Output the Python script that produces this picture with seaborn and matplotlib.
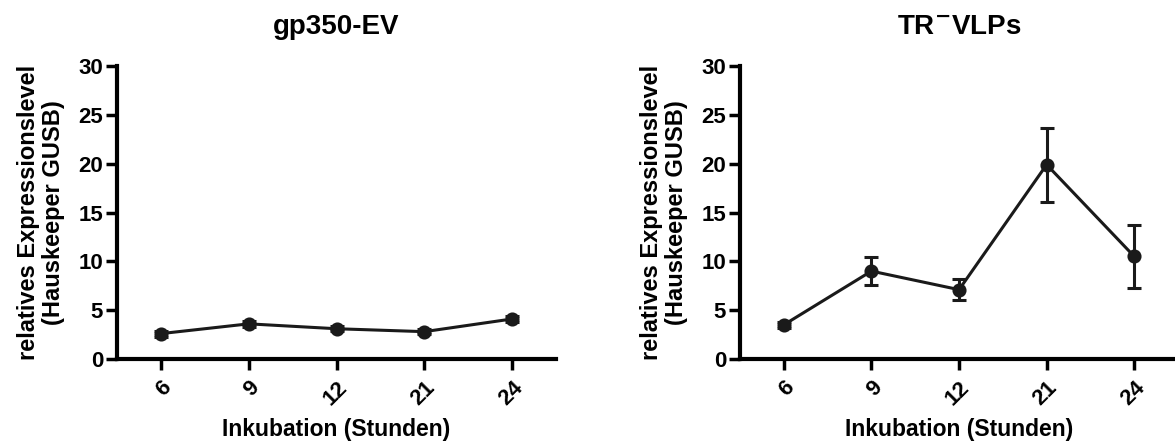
import matplotlib
matplotlib.use("Agg")
import matplotlib.pyplot as plt
import seaborn as sns
import pandas as pd


# -----------------------------------
# Data
# -----------------------------------

hours = ["6", "9", "12", "21", "24"]

gp350_mean = [2.6, 3.6, 3.1, 2.8, 4.1]
gp350_sem = [0.3, 0.3, 0.25, 0.25, 0.3]

tr_mean = [3.5, 9.0, 7.1, 19.9, 10.5]
tr_sem = [0.3, 1.4, 1.1, 3.8, 3.2]

panel_titles = ["gp350-EV", r"TR$^{\mathbf{-}}$VLPs"]
y_label = "relatives Expressionslevel\n(Hauskeeper GUSB)"
x_label = "Inkubation (Stunden)"
y_ticks = [0, 5, 10, 15, 20, 25, 30]

LINE_COLOR = "#1a1a1a"


sns.set_theme(style="ticks")

plt.rcParams["font.family"] = ["Liberation Sans", "DejaVu Sans"]
plt.rcParams["font.weight"] = "bold"
plt.rcParams["axes.labelweight"] = "bold"
plt.rcParams["axes.titleweight"] = "bold"


# -----------------------------------
# One panel
# -----------------------------------

def plot_panel(ax, title, mean, sem):

    df = pd.DataFrame({"hour": hours, "mean": mean})

    # line + markers
    sns.pointplot(
        data=df,
        x="hour",
        y="mean",
        order=hours,
        color=LINE_COLOR,
        errorbar=None,
        markers="o",
        markersize=8.5,
        linewidth=2.2,
        ax=ax
    )

    # SEM error bars
    ax.errorbar(
        range(len(hours)),
        mean,
        yerr=sem,
        fmt="none",
        ecolor=LINE_COLOR,
        elinewidth=2.2,
        capsize=5,
        capthick=2.2,
        zorder=2
    )

    ax.set_xlim(-0.5, len(hours) - 0.5)
    ax.set_ylim(0, 30)
    ax.set_yticks(y_ticks)

    sns.despine(ax=ax)

    for side in ["left", "bottom"]:
        ax.spines[side].set_linewidth(3)
        ax.spines[side].set_color("black")

    ax.tick_params(
        axis="both",
        width=2.5,
        length=8,
        color="black",
        labelsize=16,
        labelcolor="black"
    )
    ax.tick_params(axis="y", pad=2)
    ax.tick_params(axis="x", pad=5)

    plt.setp(
        ax.get_xticklabels(),
        rotation=45,
        ha="right",
        rotation_mode="anchor",
        fontweight="bold"
    )
    plt.setp(ax.get_yticklabels(), fontweight="bold")

    ax.set_title(title, fontsize=20, pad=23, color="black")

    ax.set_ylabel(y_label, fontsize=17, linespacing=1.15, color="black")
    ax.yaxis.set_label_coords(-0.118, 0.5)

    ax.set_xlabel(x_label, fontsize=16.5, color="black")
    ax.xaxis.set_label_coords(0.5, -0.2)


fig = plt.figure(figsize=(11.75, 4.43), dpi=100)

ax1 = fig.add_axes([0.0996, 0.1896, 0.3736, 0.6614])
ax2 = fig.add_axes([0.6298, 0.1896, 0.3728, 0.6614])

plot_panel(ax1, panel_titles[0], gp350_mean, gp350_sem)
plot_panel(ax2, panel_titles[1], tr_mean, tr_sem)

fig.savefig("out.png", dpi=100)
plt.close(fig)
